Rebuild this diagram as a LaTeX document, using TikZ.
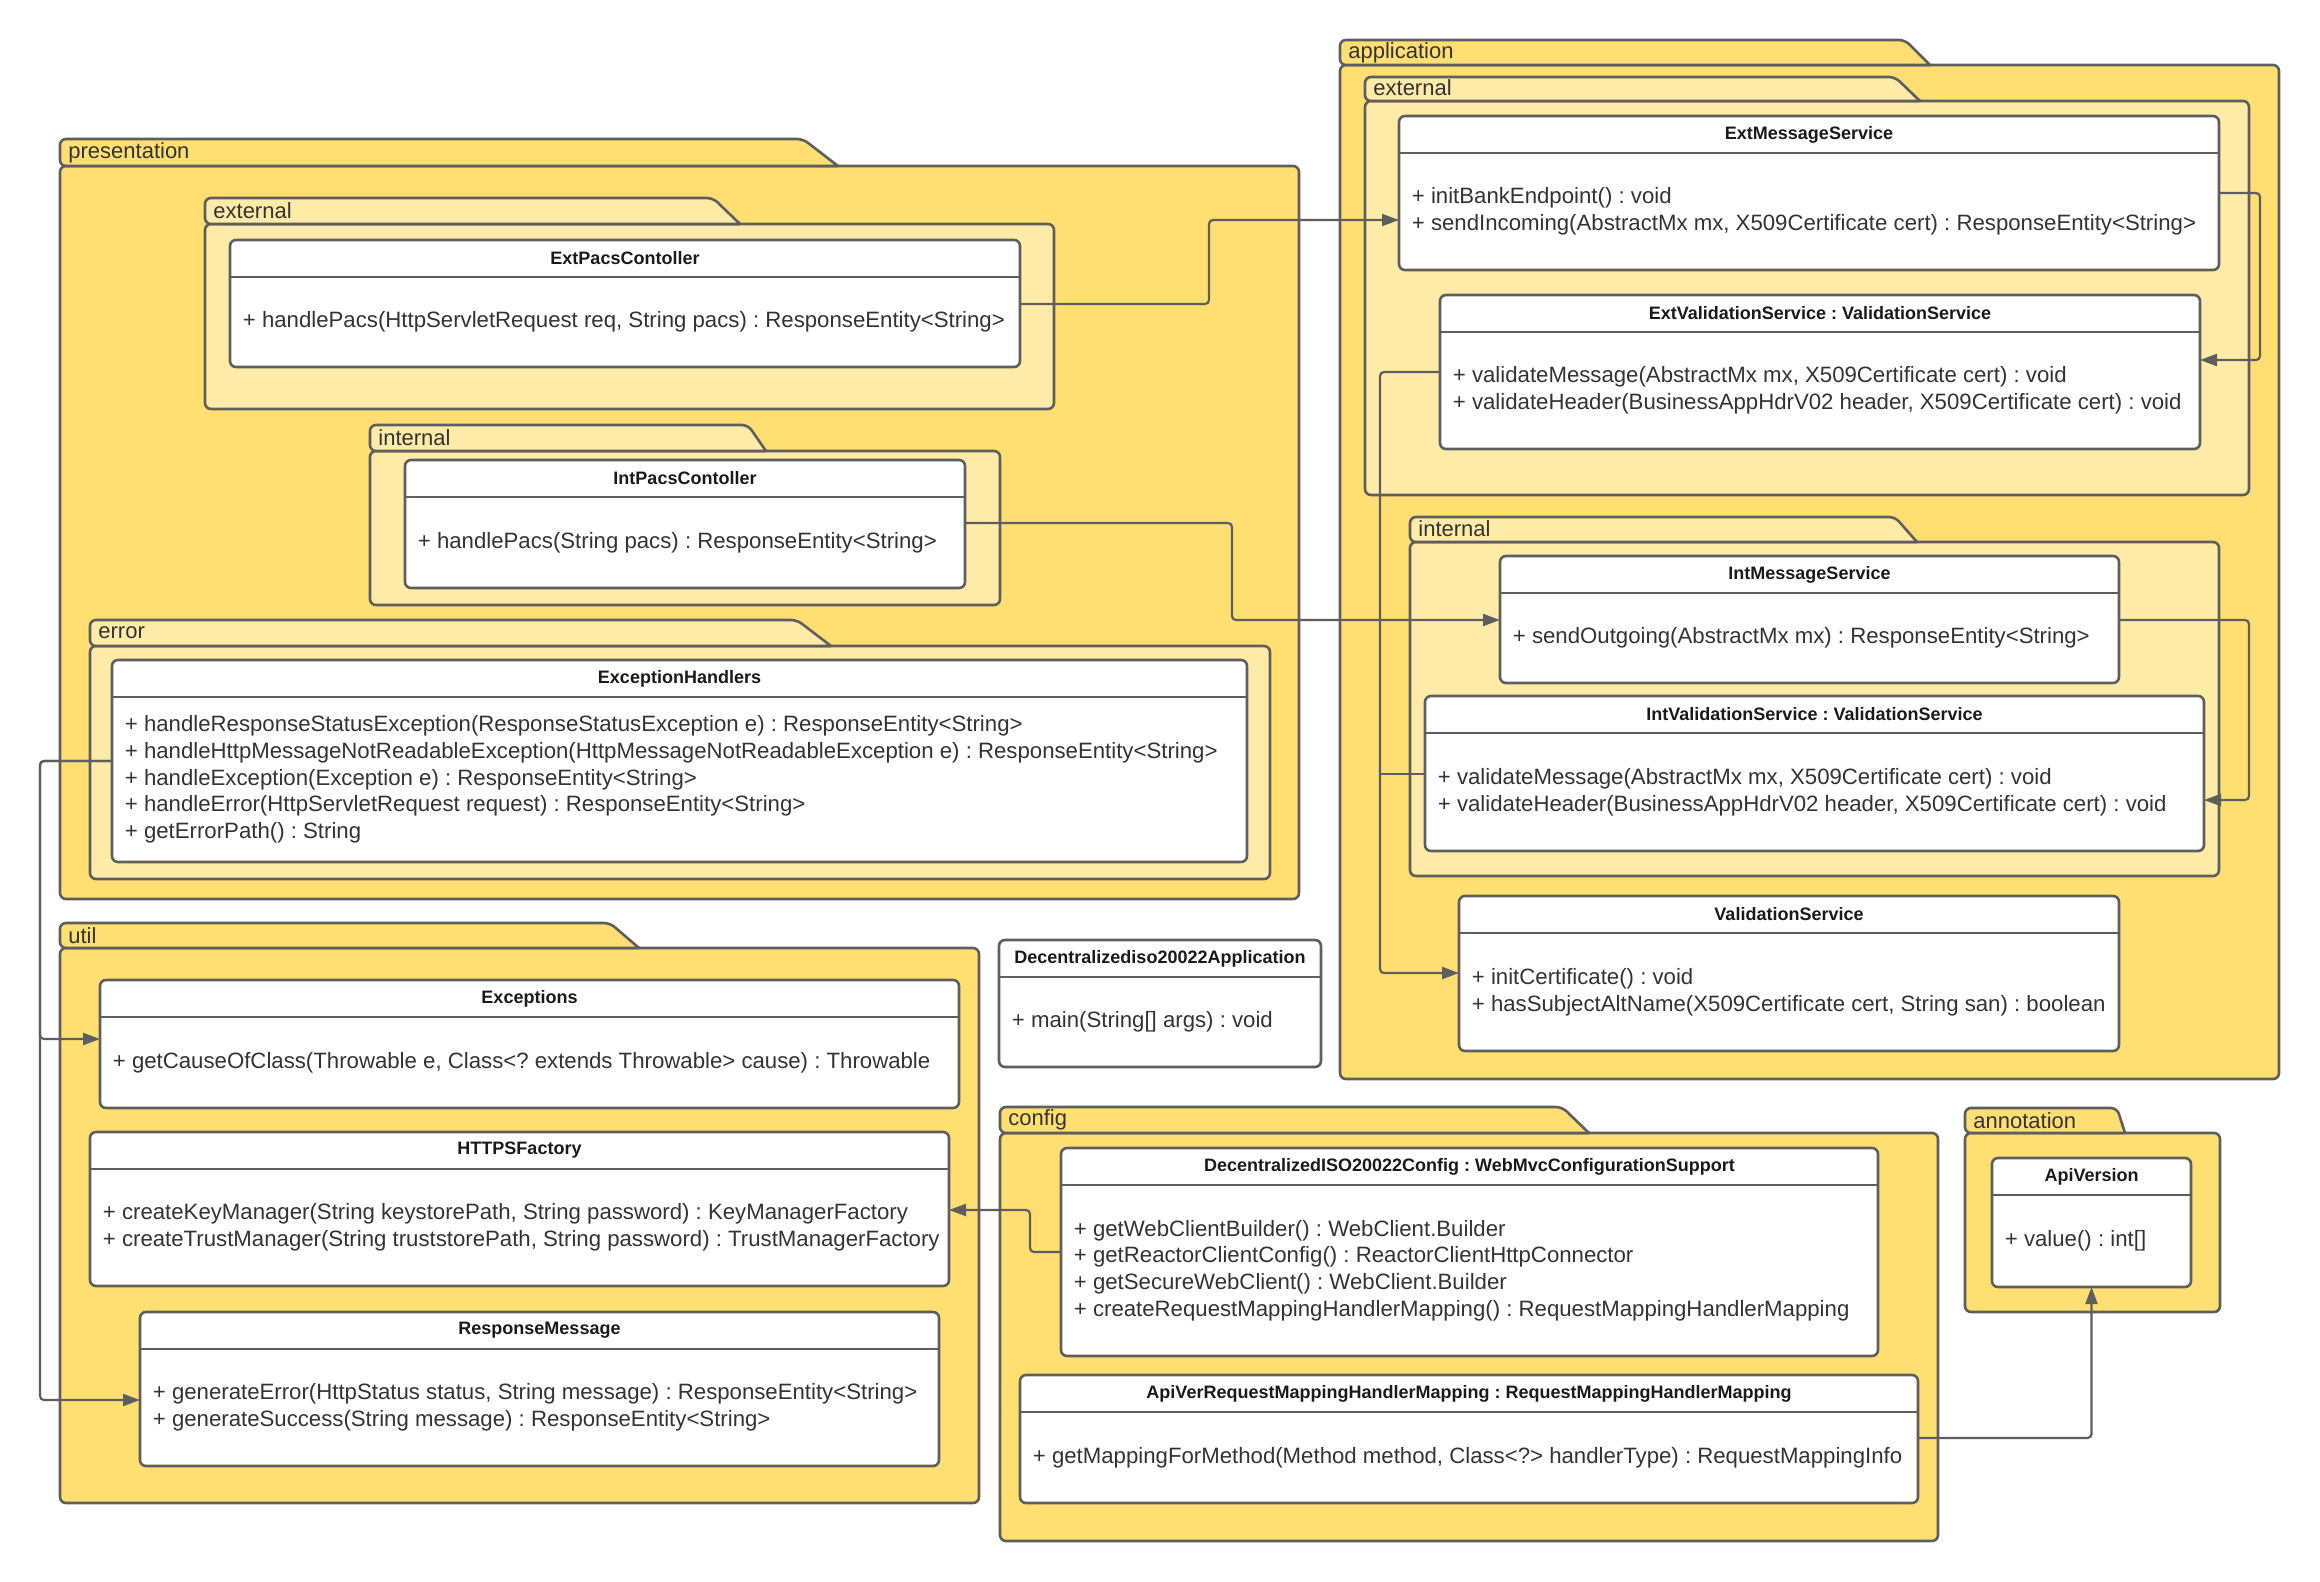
\documentclass[tikz,border=0pt]{standalone}
\usepackage{fontspec}
\setmainfont{Liberation Sans}
\frenchspacing
\usetikzlibrary{arrows.meta, calc}
\definecolor{pkgyellow}{HTML}{FFDF71}
\definecolor{pkglight}{HTML}{FFEBA8}
\definecolor{linegrey}{HTML}{5E5E5E}
\definecolor{opsgrey}{HTML}{333333}
\definecolor{titlegrey}{HTML}{1A1A1A}
\tikzset{
  pkgouter/.style={draw=linegrey, fill=pkgyellow, line width=1.3pt, rounded corners=3pt},
  pkginner/.style={draw=linegrey, fill=pkglight, line width=1.3pt, rounded corners=3pt},
  pkglabel/.style={anchor=west, inner sep=0, font=\fontsize{11}{13}\selectfont, text=opsgrey},
  classbox/.style={rectangle, draw=linegrey, fill=white, line width=1.3pt,
                   rounded corners=3pt, anchor=north west, inner sep=0, outer sep=0},
  classline/.style={draw=linegrey, line width=1.3pt},
  classtitle/.style={inner sep=0, font=\fontsize{9}{11}\selectfont\bfseries, text=titlegrey},
  classops/.style={anchor=west, align=left, inner sep=0,
                   font=\fontsize{11.1}{13.35}\selectfont, text=opsgrey},
  link/.style={-{Triangle[length=8.5pt, width=6pt]}, draw=linegrey, line width=1.1pt,
               rounded corners=2pt},
  joinlink/.style={draw=linegrey, line width=1.1pt, rounded corners=2pt},
}
% package: style, x1, tab top, body top, tab slant top x, tab slant bottom x, x2, y2
\newcommand{\umlpkg}[8]{%
  \draw[#1] (#2,#4) rectangle (#7,#8);
  \draw[#1] (#6,#4) -- (#5,#3) -- (#2,#3) -- (#2,#4) -- (#6,#4);
}
% class: name, x1, y1, x2, y2, title, operations
\newcommand{\umlclass}[7]{%
  \node[classbox, minimum width={(#4-#2)*0.5pt}, minimum height={(#5-#3)*0.5pt}] (#1) at (#2,#3) {};
  \draw[classline] (#2,#3+37) -- (#4,#3+37);
  \node[classtitle] (#1-title) at ({(#2+#4)/2},#3+18.5) {#6};
  \node[classops] (#1-ops) at (#2+12.5,{(#3+37+#5)/2}) {#7};
}

\begin{document}
\begin{tikzpicture}[x=0.5pt, y=-0.5pt]
  \useasboundingbox (0,0) rectangle (2320,1581);
  \fill[white] (0,0) rectangle (2320,1581);

  % --- presentation ---
  \umlpkg{pkgouter}{60}{139}{166}{803}{838}{1299}{899}
  \node[pkglabel] (presentation) at (68,152.5) {presentation};
  \umlpkg{pkginner}{205}{198}{224}{713}{740}{1054}{409}
  \node[pkglabel] (presexternal) at (213,211) {external};
  \umlpkg{pkginner}{370}{425}{451}{748}{766}{1000}{605}
  \node[pkglabel] (presinternal) at (378,438) {internal};
  \umlpkg{pkginner}{90}{620}{646}{797}{831}{1270}{879}
  \node[pkglabel] (preserror) at (98,633) {error};

  % --- util ---
  \umlpkg{pkgouter}{60}{923}{948}{610}{639}{979}{1503}
  \node[pkglabel] (util) at (68,935.5) {util};

  % --- application ---
  \umlpkg{pkgouter}{1340}{40}{65}{1905}{1930}{2279}{1079}
  \node[pkglabel] (application) at (1348,52.5) {application};
  \umlpkg{pkginner}{1365}{77}{101}{1895}{1920}{2249}{495}
  \node[pkglabel] (appexternal) at (1373,88) {external};
  \umlpkg{pkginner}{1410}{517}{542}{1895}{1917}{2219}{876}
  \node[pkglabel] (appinternal) at (1418,529) {internal};

  % --- config and annotation ---
  \umlpkg{pkgouter}{1000}{1107}{1133}{1562}{1589}{1938}{1541}
  \node[pkglabel] (config) at (1008,1120) {config};
  \umlpkg{pkgouter}{1965}{1108}{1133}{2117}{2125}{2220}{1312}
  \node[pkglabel] (annotation) at (1973,1120.5) {annotation};

  % --- classes ---
  \umlclass{extpacs}{230}{240}{1020}{367}{ExtPacsContoller}
    {+ handlePacs(HttpServletRequest req, String pacs) : ResponseEntity<String>}
  \umlclass{intpacs}{405}{460}{965}{588}{IntPacsContoller}
    {+ handlePacs(String pacs) : ResponseEntity<String>}
  \umlclass{exchandlers}{112}{660}{1247}{862}{ExceptionHandlers}
    {+ handleResponseStatusException(ResponseStatusException e) : ResponseEntity<String>\\
     + handleHttpMessageNotReadableException(HttpMessageNotReadableException e) : ResponseEntity<String>\\
     + handleException(Exception e) : ResponseEntity<String>\\
     + handleError(HttpServletRequest request) : ResponseEntity<String>\\
     + getErrorPath() : String}
  \umlclass{exceptions}{100}{980}{959}{1108}{Exceptions}
    {+ getCauseOfClass(Throwable e, Class<? extends Throwable> cause) : Throwable}
  \umlclass{httpsfactory}{90}{1132}{949}{1286}{HTTPSFactory}
    {+ createKeyManager(String keystorePath, String password) : KeyManagerFactory\\
     + createTrustManager(String truststorePath, String password) : TrustManagerFactory}
  \umlclass{respmsg}{140}{1312}{939}{1466}{ResponseMessage}
    {+ generateError(HttpStatus status, String message) : ResponseEntity<String>\\
     + generateSuccess(String message) : ResponseEntity<String>}
  \umlclass{mainapp}{999}{940}{1321}{1067}{Decentralizediso20022Application}
    {+ main(String[] args) : void}
  \umlclass{extmsg}{1399}{116}{2219}{270}{ExtMessageService}
    {+ initBankEndpoint() : void\\
     + sendIncoming(AbstractMx mx, X509Certificate cert) : ResponseEntity<String>}
  \umlclass{extval}{1440}{295}{2200}{449}{ExtValidationService : ValidationService}
    {+ validateMessage(AbstractMx mx, X509Certificate cert) : void\\
     + validateHeader(BusinessAppHdrV02 header, X509Certificate cert) : void}
  \umlclass{intmsg}{1500}{556}{2119}{683}{IntMessageService}
    {+ sendOutgoing(AbstractMx mx) : ResponseEntity<String>}
  \umlclass{intval}{1425}{696}{2204}{851}{IntValidationService : ValidationService}
    {+ validateMessage(AbstractMx mx, X509Certificate cert) : void\\
     + validateHeader(BusinessAppHdrV02 header, X509Certificate cert) : void}
  \umlclass{valsvc}{1459}{896}{2119}{1051}{ValidationService}
    {+ initCertificate() : void\\
     + hasSubjectAltName(X509Certificate cert, String san) : boolean}
  \umlclass{dconfig}{1061}{1148}{1878}{1356}{DecentralizedISO20022Config : WebMvcConfigurationSupport}
    {+ getWebClientBuilder() : WebClient.Builder\\
     + getReactorClientConfig() : ReactorClientHttpConnector\\
     + getSecureWebClient() : WebClient.Builder\\
     + createRequestMappingHandlerMapping() : RequestMappingHandlerMapping}
  \umlclass{apiver}{1020}{1375}{1918}{1503}{ApiVerRequestMappingHandlerMapping : RequestMappingHandlerMapping}
    {+ getMappingForMethod(Method method, Class<?> handlerType) : RequestMappingInfo}
  \umlclass{apiversion}{1992}{1158}{2191}{1287}{ApiVersion}
    {+ value() : int[]}

  % --- dependencies ---
  \draw[link] ($(extpacs.north east)+(0,64)$) -- ++(189,0) |- ($(extmsg.north west)+(0,104)$);
  \draw[link] ($(intpacs.north east)+(0,63)$) -- ++(267,0) |- ($(intmsg.north west)+(0,64)$);
  \draw[link] ($(extmsg.north east)+(0,77)$) -- ++(41,0) |- ($(extval.north east)+(0,65)$);
  \draw[link] ($(intmsg.north east)+(0,64)$) -- ++(130,0) |- ($(intval.north east)+(0,104)$);
  \draw[link] ($(extval.north west)+(0,77)$) -- ++(-60,0) coordinate (valbus)
        |- ($(valsvc.north west)+(0,77)$);
  \coordinate (intvalout) at ($(intval.north west)+(0,78)$);
  \draw[joinlink] (intvalout) -- (intvalout -| valbus);
  \draw[link] ($(exchandlers.north west)+(0,101)$) -- ++(-72,0) |- ($(exceptions.north west)+(0,59)$);
  \draw[link] ($(exchandlers.north west)+(0,101)$) -- ++(-72,0) |- ($(respmsg.north west)+(0,88)$);
  \draw[link] ($(dconfig.north west)+(0,104)$) -- ++(-31,0) |- ($(httpsfactory.north east)+(0,78)$);
  \draw[link] ($(apiver.north east)+(0,63)$) -| (apiversion.south);

\end{tikzpicture}
\end{document}
